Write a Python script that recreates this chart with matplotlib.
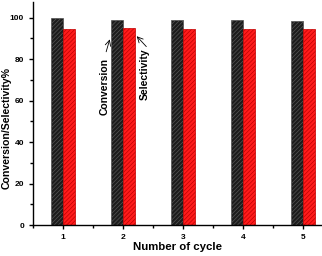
import numpy as np
import matplotlib
matplotlib.use("Agg")
import matplotlib.pyplot as plt
from matplotlib.ticker import MultipleLocator

cycles = [1, 2, 3, 4, 5]
conversion = [99.8, 98.9, 98.7, 98.7, 98.5]
selectivity = [94.7, 94.9, 94.3, 94.5, 94.3]

plt.rcParams['font.family'] = ['Liberation Sans', 'DejaVu Sans']
plt.rcParams['font.weight'] = 'bold'
plt.rcParams['hatch.linewidth'] = 0.5

fig = plt.figure(figsize=(3.22, 2.56), dpi=100)
ax = fig.add_axes([33 / 322, 31 / 256, 289 / 322, 223 / 256])

x = np.array(cycles)
w = 0.2
ax.bar(x - w / 2, conversion, w, color='#1c1c1c', edgecolor='#555555',
       hatch='////////', linewidth=0.5)
ax.bar(x + w / 2, selectivity, w, color='#ff1c1c', edgecolor='#c00000',
       hatch='////////', linewidth=0.5)

ax.set_xlim(0.5, 5.32)
ax.set_ylim(0, 107.5)
ax.set_xticks(cycles)
ax.xaxis.set_minor_locator(MultipleLocator(0.5))
ax.yaxis.set_major_locator(MultipleLocator(20))
ax.yaxis.set_minor_locator(MultipleLocator(10))
ax.tick_params(direction='out', labelsize=6, length=3, width=1)
ax.tick_params(which='minor', direction='out', length=2, width=1)
for lab in ax.get_xticklabels() + ax.get_yticklabels():
    lab.set_fontweight('bold')

for s in ['top', 'right']:
    ax.spines[s].set_visible(False)
for s in ['left', 'bottom']:
    ax.spines[s].set_linewidth(1)

ax.set_xlabel('Number of cycle', fontsize=8.2, fontweight='bold', labelpad=1)
fig.text(7 / 322, 0.5, 'Conversion/Selectivity%', rotation=90,
         ha='center', va='center', fontsize=7.6, fontweight='bold')

ax.text(1.7, 67, 'Conversion', rotation=90, ha='center', va='center',
        fontsize=7.5, fontweight='bold')
ax.annotate('', xy=(1.78, 89.5), xytext=(1.72, 83.5),
            arrowprops=dict(arrowstyle='->', color='black', lw=0.6,
                            shrinkA=0, shrinkB=0))
ax.text(2.36, 72.5, 'Selectivity', rotation=90, ha='center', va='center',
        fontsize=7.5, fontweight='bold')
ax.annotate('', xy=(2.23, 91), xytext=(2.39, 86),
            arrowprops=dict(arrowstyle='->', color='black', lw=0.6,
                            shrinkA=0, shrinkB=0))

fig.savefig('out.png', dpi=100)
